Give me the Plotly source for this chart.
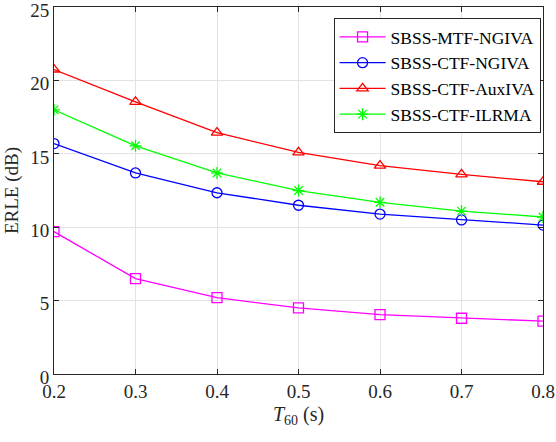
import plotly.graph_objects as go

t60 = [0.2, 0.3, 0.4, 0.5, 0.6, 0.7, 0.8]
t60_labels = ["0.2", "0.3", "0.4", "0.5", "0.6", "0.7", "0.8"]
erle_ticks = [0, 5, 10, 15, 20, 25]

mtf_ngiva = [9.7, 6.5, 5.2, 4.5, 4.05, 3.8, 3.6]
ctf_ngiva = [15.7, 13.7, 12.35, 11.5, 10.9, 10.5, 10.15]
ctf_auxiva = [20.75, 18.55, 16.45, 15.1, 14.2, 13.6, 13.1]
ctf_ilrma = [18.0, 15.55, 13.7, 12.5, 11.7, 11.1, 10.7]

names = ["SBSS-MTF-NGIVA", "SBSS-CTF-NGIVA", "SBSS-CTF-AuxIVA", "SBSS-CTF-ILRMA"]
colors = ["#ff00ff", "#0000ff", "#ff0000", "#00ff00"]
symbols = ["square-open", "circle-open", "triangle-up-open", "asterisk-open"]

fig = go.Figure()
for name, ys, c, s in zip(names, [mtf_ngiva, ctf_ngiva, ctf_auxiva, ctf_ilrma], colors, symbols):
    fig.add_trace(go.Scatter(
        x=t60, y=ys, name=name, mode="lines+markers",
        line=dict(color=c, width=1.3),
        marker=dict(symbol=s, size=10, color=c, line=dict(color=c, width=1.3)),
    ))

font = "Liberation Serif, Times New Roman, serif"
axis_common = dict(
    showline=True, linecolor="#262626", linewidth=1, mirror="ticks",
    ticks="inside", ticklen=5, tickcolor="#262626",
    showgrid=True, gridcolor="#e3e3e3", gridwidth=1,
    zeroline=False, ticklabeloverflow="allow", automargin=False,
    tickfont=dict(family=font, size=19, color="#262626"),
)

fig.update_layout(
    width=556, height=442,
    margin=dict(l=54, r=13, t=7, b=68),
    plot_bgcolor="white", paper_bgcolor="white",
    font=dict(family=font, color="#262626"),
    xaxis=dict(range=[0.2, 0.8], tickvals=t60, ticktext=t60_labels,
               title=dict(text="<i>T</i><sub>60</sub> (s)", font=dict(family=font, size=20), standoff=6),
               **axis_common),
    yaxis=dict(range=[0, 25.01], tickvals=erle_ticks, ticklabelshift=3,
               title=dict(text="ERLE (dB)", font=dict(family=font, size=19), standoff=6),
               **axis_common),
    legend=dict(x=0.995, y=0.97, xanchor="right", yanchor="top",
                bordercolor="#262626", borderwidth=1, bgcolor="white",
                font=dict(family=font, size=17.5, color="#000000"),
                tracegroupgap=0, itemwidth=46),
)

fig.write_html("out.html", config={"displayModeBar": False},
               post_script="document.body.style.margin='0';")
